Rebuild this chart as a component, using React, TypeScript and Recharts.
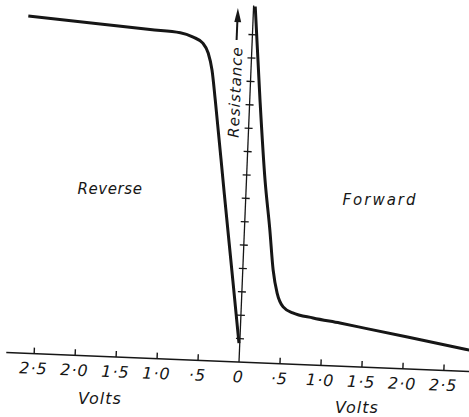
import React from 'react';
import { ComposedChart, Line, Scatter, XAxis, YAxis } from 'recharts';

// Reverse characteristic (volts negative, resistance in axis-tick units)
const reverseV = [-2.74, -1.86, -1.25, -0.88, -0.72, -0.6, -0.53, -0.475, -0.42, -0.263, -0.115, -0.01];
const reverseR = [14.4, 14.19, 14.04, 13.96, 13.79, 13.55, 13.14, 12.42, 11.14, 7.15, 3.45, 0.81];

// Forward characteristic
const forwardV = [0.02, 0.125, 0.226, 0.31, 0.37, 0.43, 0.51, 0.63, 0.88, 1.21, 1.54, 2.04, 2.8];
const forwardR = [15.21, 11.22, 7.82, 5.69, 3.99, 3.01, 2.43, 2.19, 2.01, 1.84, 1.65, 1.36, 0.91];

const xTicks = [-2.5, -2.0, -1.5, -1.0, -0.5, 0, 0.5, 1.0, 1.5, 2.0, 2.5];
const xTickMarks = [-2.5, -2.0, -1.5, -1.0, -0.5, 0.5, 1.0, 1.5, 2.0, 2.5];
const yTickMarks = [1, 2, 3, 4, 5, 6, 7, 8, 9, 10, 11, 12, 13, 14];
const yAxisTop = 15.25;

const reverseData = reverseV.map((v, i) => ({ v, r: reverseR[i] }));
const forwardData = forwardV.map((v, i) => ({ v, r: forwardR[i] }));
const yAxisData = [{ v: 0, r: 0 }, { v: 0, r: yAxisTop }];
const xMarkData = xTickMarks.map((v) => ({ v, r: 0 }));
const yMarkData = yTickMarks.map((r) => ({ v: 0, r }));

const INK = '#161616';
const FONT = '"DejaVu Sans", Verdana, sans-serif';

const fmt = (v: number) => {
  if (v === 0) return '0';
  const s = Math.abs(v).toFixed(1);
  return s.startsWith('0') ? '·' + s.slice(2) : s.replace('.', '·');
};

const XTick = (props: any) => {
  const { x, y, payload } = props;
  return (
    <text x={x} y={y} dy="0.71em" textAnchor="middle" fill={INK} fontSize={16}
      fontStyle="italic" fontFamily={FONT} letterSpacing={1}>
      {fmt(payload.value)}
    </text>
  );
};

const XMark = (props: any) => (
  <line x1={props.cx} y1={props.cy} x2={props.cx} y2={props.cy - 6} stroke={INK} strokeWidth={1.4} />
);
const YMark = (props: any) => (
  <line x1={props.cx - 4} y1={props.cy} x2={props.cx + 4} y2={props.cy} stroke={INK} strokeWidth={1.3} />
);

const textStyle: React.CSSProperties = {
  position: 'absolute',
  fontFamily: FONT,
  fontStyle: 'italic',
  color: INK,
  whiteSpace: 'nowrap',
  transform: 'translate(-50%, -50%)',
  lineHeight: 1,
};

export default function App() {
  return (
    <div style={{ position: 'fixed', left: 0, top: 0, width: 469, height: 417, overflow: 'hidden', background: '#fff' }}>
      <div style={{ position: 'absolute', left: 0, top: 0, transform: 'rotate(2.35deg)', transformOrigin: '239px 362px' }}>
        <ComposedChart width={480} height={417} margin={{ top: 1.64, right: 8.1, bottom: 15, left: 6.1 }}>
          <XAxis type="number" dataKey="v" domain={[-2.84, 2.84]} ticks={xTicks} allowDataOverflow
            height={40} tickLine={false} tickSize={0} tickMargin={9} interval={0}
            axisLine={{ stroke: INK, strokeWidth: 1.5 }} tick={<XTick />} />
          <YAxis type="number" dataKey="r" domain={[0, 15.4]} hide allowDataOverflow />
          <Line data={yAxisData} dataKey="r" type="linear" stroke={INK} strokeWidth={1.3} dot={false} isAnimationActive={false} />
          <Scatter data={xMarkData} dataKey="r" shape={<XMark />} isAnimationActive={false} />
          <Scatter data={yMarkData} dataKey="r" shape={<YMark />} isAnimationActive={false} />
          <Line data={reverseData} dataKey="r" type="monotone" stroke={INK} strokeWidth={3} dot={false} isAnimationActive={false} />
          <Line data={forwardData} dataKey="r" type="monotone" stroke={INK} strokeWidth={3} dot={false} isAnimationActive={false} />
        </ComposedChart>
      </div>
      <div style={{ ...textStyle, left: 110, top: 189, fontSize: 15, letterSpacing: 0.6 }}>Reverse</div>
      <div style={{ ...textStyle, left: 380, top: 200, fontSize: 15, letterSpacing: 2 }}>Forward</div>
      <div style={{ ...textStyle, left: 100, top: 399, fontSize: 16, letterSpacing: 1 }}>Volts</div>
      <div style={{ ...textStyle, left: 357, top: 408, fontSize: 16, letterSpacing: 1 }}>Volts</div>
      <div style={{ ...textStyle, left: 235.5, top: 92, fontSize: 15, letterSpacing: 1, transform: 'translate(-50%, -50%) rotate(-87.65deg)' }}>Resistance</div>
      <svg width={469} height={417} style={{ position: 'absolute', left: 0, top: 0, pointerEvents: 'none' }}>
        <line x1={236.6} y1={40} x2={237.5} y2={18} stroke={INK} strokeWidth={2} />
        <polygon points="237.9,8 234.3,22 241.2,22.2" fill={INK} />
      </svg>
    </div>
  );
}
